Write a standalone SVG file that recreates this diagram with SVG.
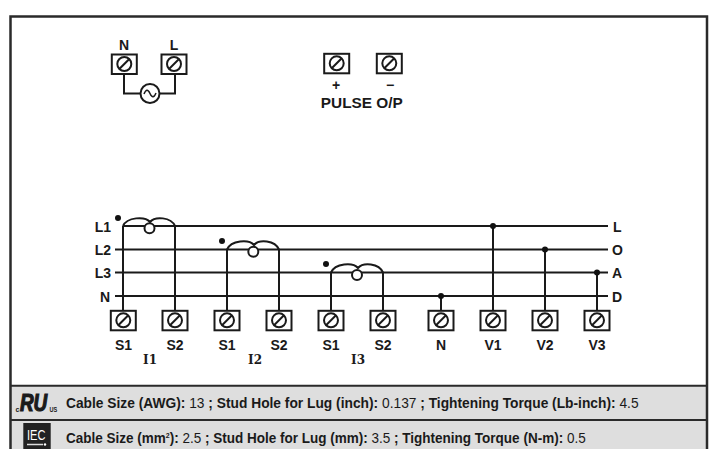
<svg xmlns="http://www.w3.org/2000/svg" width="715" height="449" viewBox="0 0 715 449">
<style>
text{font-family:"Liberation Sans",Arial,sans-serif;font-weight:bold;fill:#1a1a1a}
.l{font-size:14px;text-anchor:middle}
.e{font-size:14px;text-anchor:end}
.r{font-size:14px}
.i{font-family:"DejaVu Serif",serif;font-size:12px;text-anchor:middle}
.w{fill:none;stroke:#1a1a1a;stroke-width:2}
.b{fill:#fff;stroke:#1a1a1a;stroke-width:2}
.s{font-size:15.500px}
.n{font-weight:normal}
</style>
<defs>
<g id="t"><rect class="b" x="-12.500" y="-9.500" width="25" height="19.500"/><circle class="b" cx="0" cy="0" r="7"/><line class="w" x1="-5" y1="5" x2="5" y2="-5"/></g>
</defs>
<rect x="10" y="15" width="697" height="434" fill="#fff"/>
<rect x="11" y="386" width="695" height="34" fill="#dedede"/>
<rect x="11" y="420" width="695" height="29" fill="#dedede"/>
<path d="M10.500 449V16.500H707V449" fill="none" stroke="#2a2a2a" stroke-width="2.500"/>
<path d="M10 385.700H707M10 420H707" fill="none" stroke="#2a2a2a" stroke-width="2"/>
<g id="connectors">
<path class="w" d="M124 72V93.500H142M158 93.500H175V72"/>
<path class="w" d="M123 226H608M115 249.500H608M115 272.500H608M115 296H608"/>
<path class="w" d="M123 226V310M175 226V310M227 249.500V310M279 249.500V310M331 272.500V310M383 272.500V310M441 296V310M493 226V310M545 249.500V310M597 272.500V310"/>
<path class="w" d="M123 226C127 217 145 216 150 222C155 216 171 217 175 226"/>
<path class="w" d="M227 249.500C231 240 249 239 254 245C259 239 275 240 279 249.500"/>
<path class="w" d="M331 272.500C335 263 353 262 358 268C363 262 379 263 383 272.500"/>
<circle class="b" cx="149.500" cy="228.300" r="5"/>
<circle class="b" cx="253.300" cy="251.700" r="5"/>
<circle class="b" cx="357" cy="275" r="5"/>
<g fill="#111"><circle cx="118" cy="218" r="3"/><circle cx="222" cy="241" r="3"/><circle cx="326" cy="264" r="3"/><circle cx="441" cy="296" r="3"/><circle cx="493" cy="226" r="3"/><circle cx="545" cy="249.500" r="3"/><circle cx="597" cy="272.500" r="3"/></g>
</g>
<g id="source"><circle class="b" cx="150" cy="93.500" r="9.500"/><path class="w" style="stroke-width:1.500" d="M144 94C146 89 148 89 150 93.500C152 98 154 98 156 93"/></g>
<g id="term-N"><use href="#t" x="124.300" y="64"/><text class="l" x="124" y="49.500">N</text></g>
<g id="term-L"><use href="#t" x="174" y="64"/><text class="l" x="174" y="49.500">L</text></g>
<g id="term-plus"><use href="#t" x="336.700" y="63.300"/><text class="l" x="336" y="90">+</text></g>
<g id="term-minus"><use href="#t" x="389.300" y="63.300"/><text class="l" x="390" y="90">−</text></g>
<text class="l" x="361.800" y="108.300" textLength="82" lengthAdjust="spacingAndGlyphs">PULSE O/P</text>
<g id="phase-labels"><text class="e" x="111" y="231.500">L1</text><text class="e" x="111" y="255">L2</text><text class="e" x="111" y="278">L3</text><text class="e" x="110" y="301.500">N</text>
<text class="r" x="613" y="232">L</text><text class="r" x="612" y="255">O</text><text class="r" x="612" y="278">A</text><text class="r" x="612" y="302">D</text></g>
<g id="S1a"><use href="#t" x="123.300" y="320.300"/><text class="l" x="123.500" y="350">S1</text></g>
<g id="S2a"><use href="#t" x="175" y="320.300"/><text class="l" x="175" y="350">S2</text></g>
<g id="S1b"><use href="#t" x="227" y="320.300"/><text class="l" x="227" y="350">S1</text></g>
<g id="S2b"><use href="#t" x="279" y="320.300"/><text class="l" x="279" y="350">S2</text></g>
<g id="S1c"><use href="#t" x="331" y="320.300"/><text class="l" x="331" y="350">S1</text></g>
<g id="S2c"><use href="#t" x="383" y="320.300"/><text class="l" x="383" y="350">S2</text></g>
<g id="Nn"><use href="#t" x="441" y="320.300"/><text class="l" x="441" y="350">N</text></g>
<g id="V1"><use href="#t" x="493" y="320.300"/><text class="l" x="493" y="350">V1</text></g>
<g id="V2"><use href="#t" x="545" y="320.300"/><text class="l" x="545" y="350">V2</text></g>
<g id="V3"><use href="#t" x="597" y="320.300"/><text class="l" x="597" y="350">V3</text></g>
<text class="i" x="150" y="364">I1</text><text class="i" x="255" y="364">I2</text><text class="i" x="358" y="364">I3</text>
<g id="ul"><text x="15.500" y="412" style="font-size:7px">c</text><text transform="translate(20 411) scale(.82 1)" style="font-size:23px;font-weight:bold;font-style:italic;stroke:#1a1a1a;stroke-width:1.200">RU</text><text transform="translate(49.500 412) scale(.8 1)" style="font-size:7px">US</text></g>
<text class="s" transform="translate(66 408) scale(.889 1)">Cable Size (AWG): <tspan class="n">13</tspan> ; Stud Hole for Lug (inch): <tspan class="n">0.137</tspan> ; Tightening Torque (Lb-inch): <tspan class="n">4.5</tspan></text>
<g id="iec"><rect x="23.300" y="423" width="27.400" height="26" fill="#222"/><text x="27" y="440" textLength="18.500" lengthAdjust="spacingAndGlyphs" style="font-size:15px;font-weight:normal;fill:#fff">IEC</text><path d="M27 444.500H43" stroke="#ddd" stroke-width="1.500"/><circle cx="45" cy="444.500" r="1.200" fill="#fff"/></g>
<text class="s" transform="translate(66 442.500) scale(.872 1)">Cable Size (mm<tspan dy="-5" style="font-size:8px">2</tspan><tspan dy="5">):</tspan> <tspan class="n">2.5</tspan> ; Stud Hole for Lug (mm): <tspan class="n">3.5</tspan> ; Tightening Torque (N-m): <tspan class="n">0.5</tspan></text>
</svg>
